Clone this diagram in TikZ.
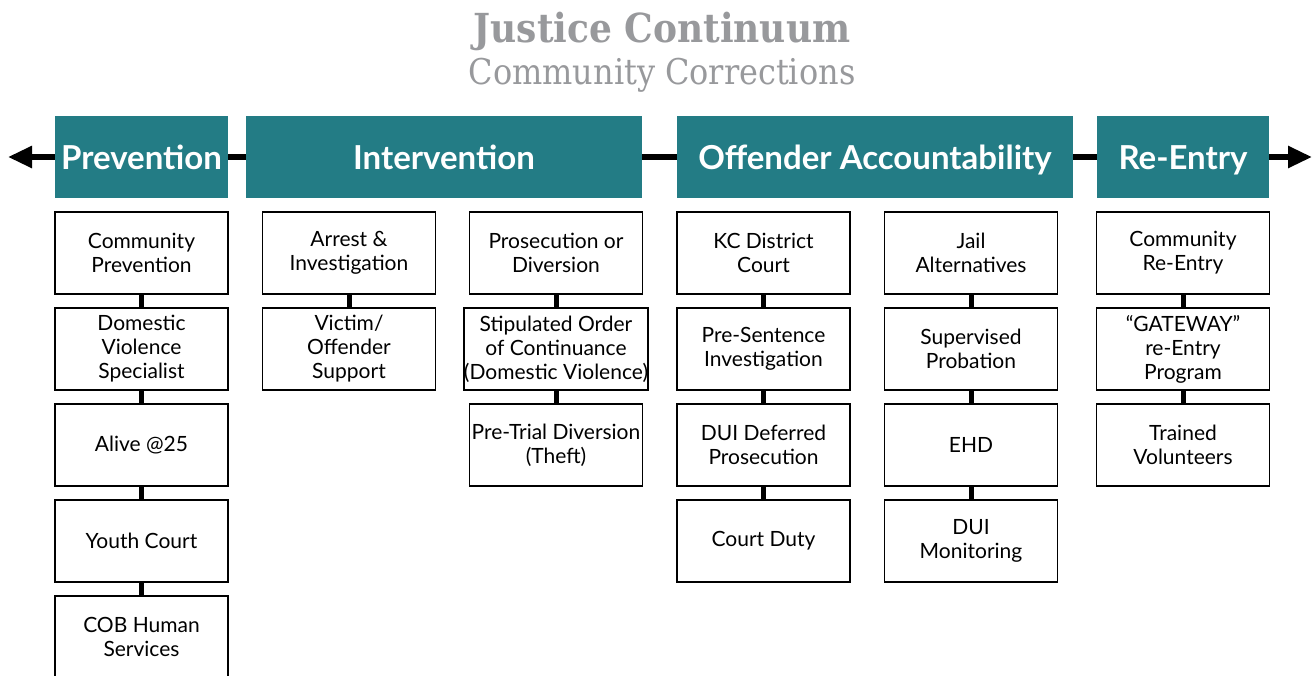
\documentclass[tikz,border=0pt]{standalone}
\usepackage{fontspec}
\setmainfont{Lato}
\newfontfamily\titlefont{DejaVu Serif Condensed}
\usetikzlibrary{arrows.meta}
\definecolor{hdrteal}{HTML}{237C85}
\definecolor{titlegray}{HTML}{98999C}
\begin{document}
\begin{tikzpicture}[x=1pt,y=-1pt,
  hdr/.style={fill=hdrteal, text=white, minimum height=82pt, inner sep=0pt,
    text height=25pt, text depth=0pt,
    font=\fontsize{33}{38}\selectfont\bfseries},
  item/.style={draw=black, line width=1.4pt, fill=white, minimum width=173pt,
    minimum height=82pt, inner sep=0pt, align=center,
    font=\fontsize{21}{24}\selectfont},
  link/.style={line width=5pt},
  axis/.style={line width=5.5pt, {Triangle[length=24pt,width=21pt]}-{Triangle[length=24pt,width=21pt]}},
  ttl/.style={text=titlegray, inner sep=0pt}
]
\useasboundingbox (0,0) rectangle (1314,675);
\clip (0,0) rectangle (1314,675);

% title
\node[ttl, font=\titlefont\fontsize{40}{44}\selectfont\bfseries] (t1) at (662,31) {Justice Continuum};
\node[ttl, font=\titlefont\fontsize{35.5}{40}\selectfont] (t2) at (662,75) {Community Corrections};

% axis
\coordinate (aL) at (8,157);
\coordinate (aR) at (1312,157);
\draw[axis] (aL) -- (aR);

% headers
\node[hdr, minimum width=173pt] (h1) at (141.5,157) {Prevention};
\node[hdr, minimum width=396pt] (h2) at (444,157) {Intervention};
\node[hdr, minimum width=396pt] (h3) at (875,157) {Offender Accountability};
\node[hdr, minimum width=172pt] (h4) at (1183,157) {Re-Entry};

% column 1
\node[item] (a1) at (141.5,253) {Community\\Prevention};
\node[item] (a2) at (141.5,349) {Domestic\\Violence\\Specialist};
\node[item] (a3) at (141.5,445) {Alive @25};
\node[item] (a4) at (141.5,541) {Youth Court};
\node[item] (a5) at (141.5,637) {COB Human\\Services};
% column 2
\node[item] (b1) at (349,253) {Arrest \&\\Investigation};
\node[item] (b2) at (349,349) {Victim/\\Offender\\Support};
% column 3
\node[item] (c1) at (556,253) {Prosecution or\\Diversion};
\node[item] (c2) at (556,349) {Stipulated Order\\of Continuance\\(Domestic Violence)};
\node[item] (c3) at (556,445) {Pre-Trial Diversion\\(Theft)};
% column 4
\node[item] (d1) at (763.5,253) {KC District\\Court};
\node[item] (d2) at (763.5,349) {Pre-Sentence\\Investigation};
\node[item] (d3) at (763.5,445) {DUI Deferred\\Prosecution};
\node[item] (d4) at (763.5,541) {Court Duty};
% column 5
\node[item] (e1) at (971,253) {Jail\\Alternatives};
\node[item] (e2) at (971,349) {Supervised\\Probation};
\node[item] (e3) at (971,445) {EHD};
\node[item] (e4) at (971,541) {DUI\\Monitoring};
% column 6
\node[item] (f1) at (1183,253) {Community\\Re-Entry};
\node[item] (f2) at (1183,349) {“GATEWAY”\\re-Entry\\Program};
\node[item] (f3) at (1183,445) {Trained\\Volunteers};

% connectors
\foreach \u/\v in {a1/a2,a2/a3,a3/a4,a4/a5,b1/b2,c1/c2,c2/c3,d1/d2,d2/d3,d3/d4,e1/e2,e2/e3,e3/e4,f1/f2,f2/f3}
  \draw[link] (\u.south) -- (\v.north);
\end{tikzpicture}
\end{document}
